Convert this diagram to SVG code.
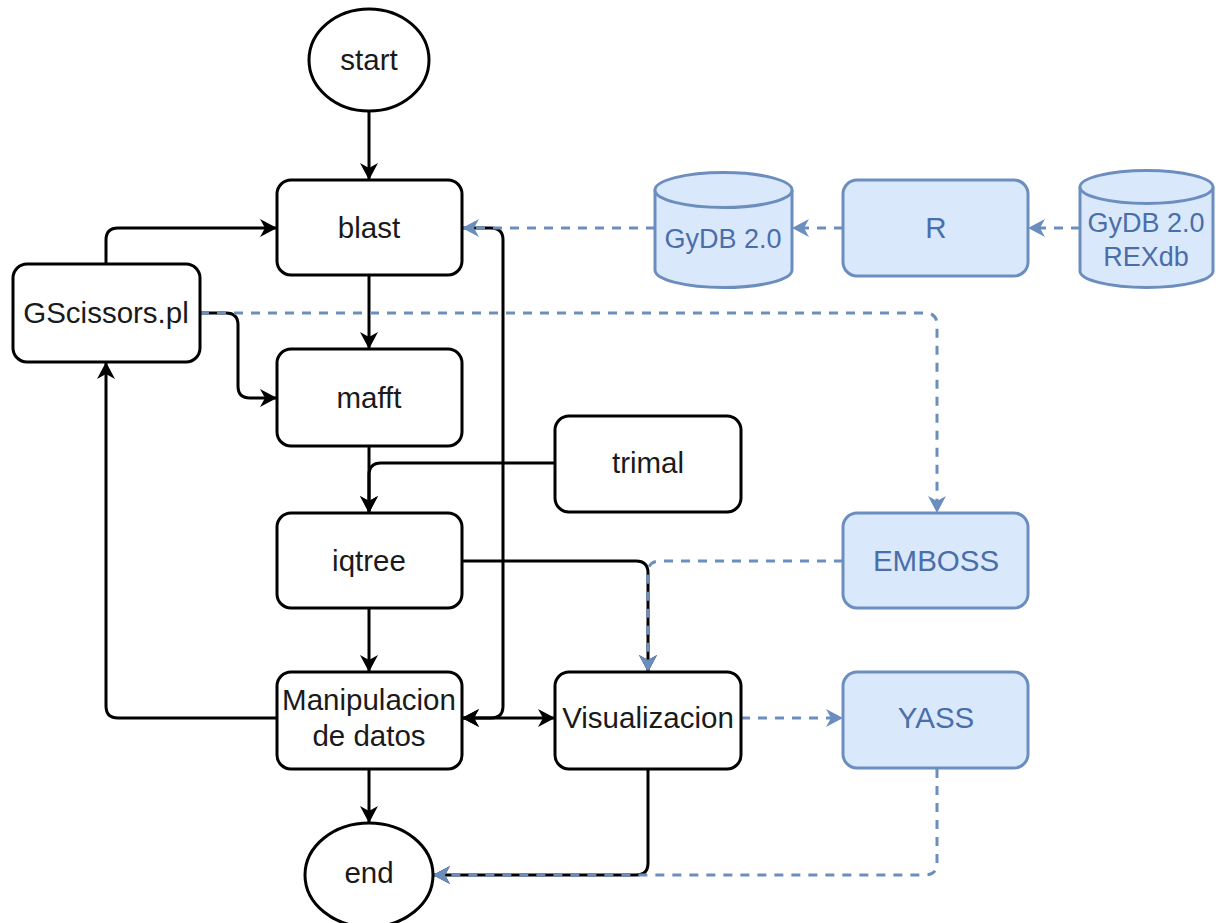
<svg xmlns="http://www.w3.org/2000/svg" width="1216" height="923" viewBox="0 0 1216 923">
<defs>
<style>
.n{fill:#ffffff;stroke:#000000;stroke-width:3}
.b{fill:#dae8fc;stroke:#6c8ebf;stroke-width:3}
.t{font-family:"Liberation Sans",Arial,sans-serif;font-size:29.5px;fill:#1a1a1a;text-anchor:middle}
.tb{font-family:"Liberation Sans",Arial,sans-serif;font-size:29.5px;fill:#4a6ea9;text-anchor:middle}
.tc{font-family:"Liberation Sans",Arial,sans-serif;font-size:27px;fill:#4a6ea9;text-anchor:middle}
.e{fill:none;stroke:#000000;stroke-width:3}
.d{fill:none;stroke:#6c8ebf;stroke-width:3;stroke-dasharray:9 8}
</style>
<marker id="ak" markerUnits="userSpaceOnUse" markerWidth="20" markerHeight="20" refX="16" refY="9" orient="auto">
<path d="M0,0 L17,9 L0,18 L5,9 Z" fill="#000000"/>
</marker>
<marker id="aks" markerUnits="userSpaceOnUse" markerWidth="20" markerHeight="20" refX="16" refY="9" orient="auto-start-reverse">
<path d="M0,0 L17,9 L0,18 L5,9 Z" fill="#000000"/>
</marker>
<marker id="ab" markerUnits="userSpaceOnUse" markerWidth="20" markerHeight="20" refX="16" refY="9" orient="auto">
<path d="M0,0 L17,9 L0,18 L5,9 Z" fill="#6c8ebf"/>
</marker>
</defs>
<rect width="1216" height="923" fill="#ffffff"/>

<g id="connectors">
<path class="e" d="M369,112 V179" marker-end="url(#ak)"/>
<path class="e" d="M369,275 V348" marker-end="url(#ak)"/>
<path class="e" d="M369,446 V512" marker-end="url(#ak)"/>
<path class="e" d="M555,463 H381 Q369,463 369,475 V512" marker-end="url(#ak)"/>
<path class="e" d="M369,608 V671" marker-end="url(#ak)"/>
<path class="e" d="M369,769 V822" marker-end="url(#ak)"/>
<path class="e" d="M106,264 V240 Q106,228 118,228 H276" marker-end="url(#ak)"/>
<path class="e" d="M200,313 H226 Q238,313 238,325 V386 Q238,398 250,398 H276" marker-end="url(#ak)"/>
<path class="e" d="M277,718 H118 Q106,718 106,706 V363" marker-end="url(#ak)"/>
<path class="e" d="M462,228 H491 Q503,228 503,240 V706 Q503,718 491,718 H463" marker-end="url(#ak)"/>
<path class="e" d="M463,718 H554" marker-start="url(#aks)" marker-end="url(#ak)"/>
<path class="e" d="M462,561 H636 Q648,561 648,573 V671" marker-end="url(#ak)"/>
<path class="e" d="M648,769 V863 Q648,875 636,875 H434" marker-end="url(#ak)"/>
<path class="d" d="M655,228 H463" marker-end="url(#ab)"/>
<path class="d" d="M843,228 H793" marker-end="url(#ab)"/>
<path class="d" d="M1080,228 H1029" marker-end="url(#ab)"/>
<path class="d" d="M200,313 H925 Q937,313 937,325 V512" marker-end="url(#ab)"/>
<path class="d" d="M843,561 H660 Q648,561 648,573 V671" marker-end="url(#ab)"/>
<path class="d" d="M741,718 H842" marker-end="url(#ab)"/>
<path class="d" d="M937,769 V863 Q937,875 925,875 H434" marker-end="url(#ab)"/>
</g>

<g id="start"><ellipse class="n" cx="369" cy="60" rx="60" ry="51"/><text class="t" x="369" y="70">start</text></g>
<g id="blast"><rect class="n" x="277" y="180" width="185" height="95" rx="14"/><text class="t" x="369" y="238">blast</text></g>
<g id="mafft"><rect class="n" x="277" y="349" width="185" height="97" rx="14"/><text class="t" x="369" y="408">mafft</text></g>
<g id="iqtree"><rect class="n" x="277" y="513" width="185" height="95" rx="14"/><text class="t" x="369" y="571">iqtree</text></g>
<g id="manipulacion"><rect class="n" x="277" y="672" width="185" height="97" rx="14"/><text class="t" x="369" y="710">Manipulacion</text><text class="t" x="369" y="746">de datos</text></g>
<g id="end"><ellipse class="n" cx="369" cy="875" rx="64" ry="52"/><text class="t" x="369" y="883">end</text></g>
<g id="gscissors"><rect class="n" x="13" y="264" width="187" height="98" rx="14"/><text class="t" x="106" y="323">GScissors.pl</text></g>
<g id="trimal"><rect class="n" x="555" y="416" width="186" height="96" rx="14"/><text class="t" x="648" y="473">trimal</text></g>
<g id="visualizacion"><rect class="n" x="555" y="672" width="186" height="97" rx="14"/><text class="t" x="648" y="728">Visualizacion</text></g>
<g id="r"><rect class="b" x="843" y="180" width="185" height="96" rx="14"/><text class="tb" x="936" y="238">R</text></g>
<g id="emboss"><rect class="b" x="843" y="513" width="185" height="95" rx="14"/><text class="tb" x="936" y="571">EMBOSS</text></g>
<g id="yass"><rect class="b" x="843" y="672" width="185" height="96" rx="14"/><text class="tb" x="936" y="728">YASS</text></g>
<g id="gydb"><path class="b" d="M655,190 A68.5,17.5 0 0 1 792,190 V270 A68.5,17.5 0 0 1 655,270 Z"/><path class="b" d="M655,190 A68.5,17.5 0 0 0 792,190" fill="none"/><text class="tc" x="723" y="248">GyDB 2.0</text></g>
<g id="gydb-rexdb"><path class="b" d="M1080,187 A66.5,16.5 0 0 1 1213,187 V271 A66.5,16.5 0 0 1 1080,271 Z"/><path class="b" d="M1080,187 A66.5,16.5 0 0 0 1213,187" fill="none"/><text class="tc" x="1146" y="232">GyDB 2.0</text><text class="tc" x="1146" y="266">REXdb</text></g>
</svg>
